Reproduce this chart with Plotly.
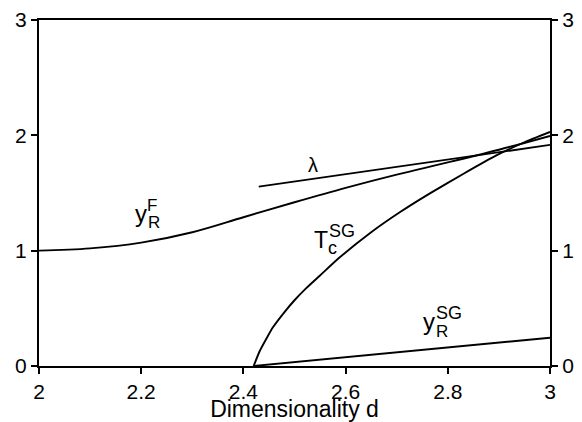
import plotly.graph_objects as go

# ---- data ----
d_yRF = [2.0, 2.1, 2.2, 2.3, 2.4, 2.5, 2.6, 2.7, 2.8, 2.9, 3.0]
yRF   = [1.0, 1.02, 1.07, 1.16, 1.29, 1.42, 1.545, 1.66, 1.765, 1.875, 1.995]

d_lam = [2.43, 3.0]
lam   = [1.555, 1.917]

d_Tc  = [2.42, 2.432, 2.446, 2.4575, 2.48, 2.5, 2.523, 2.55, 2.588, 2.65, 2.706,
         2.765, 2.83, 2.896, 2.95, 3.0]
Tc    = [0.0, 0.13, 0.245, 0.333, 0.465, 0.57, 0.675, 0.785, 0.94, 1.16, 1.333,
         1.497, 1.665, 1.828, 1.94, 2.03]

d_ySG = [2.42, 3.0]
ySG   = [0.0, 0.245]

x_ticks = [2, 2.2, 2.4, 2.6, 2.8, 3]
x_ticklabels = ["2", "2.2", "2.4", "2.6", "2.8", "3"]
y_ticks = [0, 1, 2, 3]
y_ticklabels = ["0", "1", "2", "3"]

FONT = "Liberation Sans, Arial, Helvetica, sans-serif"
line_style = dict(color="black", width=1.9)

fig = go.Figure()
for xs, ys, sm in [(d_yRF, yRF, 1.0), (d_lam, lam, 0.5), (d_Tc, Tc, 0.5), (d_ySG, ySG, 0.5)]:
    fig.add_trace(go.Scatter(x=xs, y=ys, mode="lines",
                             line=dict(shape="spline", smoothing=sm, **line_style),
                             showlegend=False, hoverinfo="skip"))
# invisible trace for the right axis
fig.add_trace(go.Scatter(x=[2, 3], y=[0, 3], yaxis="y2", mode="markers",
                         marker=dict(opacity=0), showlegend=False, hoverinfo="skip"))

def ann(x, y, text, size, xanchor="center"):
    fig.add_annotation(x=x, y=y, xref="x", yref="y", text=text, showarrow=False,
                       font=dict(family=FONT, size=size, color="black"),
                       xanchor=xanchor, yanchor="middle")

# labels: base letter + stacked super/subscripts
ann(2.536, 1.743, "λ", 20)
ann(2.1996, 1.321, "y", 24)
ann(2.2221, 1.392, "F", 17)
ann(2.2250, 1.240, "R", 17)
ann(2.5509, 1.0925, "T", 23)
ann(2.5939, 1.1705, "SG", 18)
ann(2.5753, 1.0197, "c", 18)
ann(2.7632, 0.385, "y", 24)
ann(2.8014, 0.4613, "SG", 18)
ann(2.7881, 0.3009, "R", 17)

axis_common = dict(showgrid=False, zeroline=False, showline=True, linecolor="black", linewidth=2,
                   ticks="outside", ticklen=6, tickwidth=1.5, tickcolor="black", automargin=False,
                   tickfont=dict(family=FONT, size=21, color="black"))

fig.update_layout(
    width=582, height=422,
    margin=dict(l=39, r=32, t=20, b=56),
    paper_bgcolor="white", plot_bgcolor="white",
    xaxis=dict(range=[2, 3], tickvals=x_ticks, ticktext=x_ticklabels, mirror=True,
               title=dict(text="Dimensionality d", font=dict(family=FONT, size=23, color="black"), standoff=0),
               **axis_common),
    yaxis=dict(range=[0, 3], tickvals=y_ticks, ticktext=y_ticklabels, mirror=True, **axis_common),
    yaxis2=dict(range=[0, 3], tickvals=y_ticks, ticktext=y_ticklabels, overlaying="y", side="right",
                **axis_common),
)

fig.write_html("out.html", config={"displayModeBar": False},
               post_script="document.body.style.margin='0';document.body.style.overflow='hidden';")
